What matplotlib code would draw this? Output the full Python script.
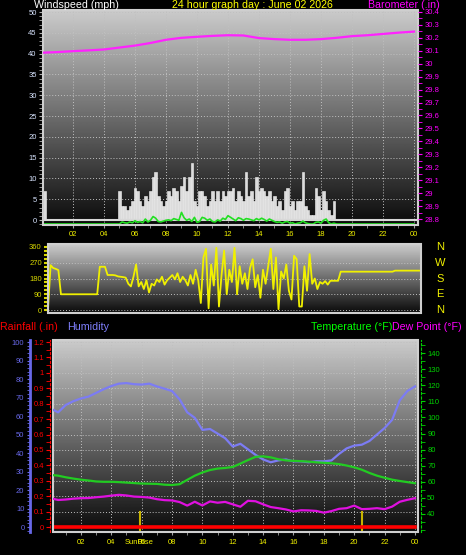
import numpy as np
import matplotlib
matplotlib.use('Agg')
import matplotlib.pyplot as plt
from matplotlib import transforms
from matplotlib.patches import Rectangle
from matplotlib.ticker import MultipleLocator, FuncFormatter

plt.rcParams['font.family'] = ['Liberation Sans', 'DejaVu Sans']

# ---- data -----------------------------------------------------------
title_text = '24 hour graph day : June 02 2026'

# wind, 10 minute samples 00:00 .. 24:00 (145 values)
wind_gust_mph = ([0.0, 6.9] + [0.0] * 28 +
                 [6.9, 3.4, 3.4, 2.3, 3.4, 4.6, 7.8,
                  6.9, 4.6, 3.4, 5.7, 4.6, 6.9,
                  10.4, 11.5, 5.7, 4.6, 3.4, 4.6,
                  6.9, 5.7, 7.8, 6.9, 4.6, 8.1,
                  10.4, 6.9, 10.4, 13.8, 4.6, 3.4,
                  6.9, 6.9, 5.7, 3.4, 4.6, 6.9,
                  4.6, 6.9, 4.6, 6.9, 5.7, 6.9,
                  6.9, 7.8, 4.6, 6.9, 5.7, 4.6,
                  11.5, 5.7, 6.9, 4.6, 10.4, 6.9,
                  7.8, 6.9, 5.7, 6.9, 4.6, 5.7,
                  3.4, 4.6, 2.3, 6.9, 7.8, 3.4,
                  4.6, 2.3, 4.6, 4.6, 11.5, 3.4,
                  2.3, 1.2, 1.2, 7.8, 5.7, 2.3,
                  6.9, 4.6, 2.3, 1.2, 4.6, 0.0] +
                 [0.0] * 30)
wind_avg_mph = ([0.0] * 30 +
                [0.0, 0.5, 0.3, 0.2, 0.5, 0.3, 0.8,
                 0.4, 0.6, 0.3, 1.2, 0.5, 0.9,
                 1.8, 1.4, 0.6, 0.5, 0.7, 0.9,
                 1.0, 0.8, 1.3, 1.1, 0.9, 2.8,
                 1.5, 0.9, 1.2, 0.6, 1.6, 0.4,
                 0.6, 1.6, 1.4, 0.9, 1.2, 0.6,
                 0.5, 1.0, 0.7, 1.4, 1.1, 2.0,
                 1.6, 1.2, 0.8, 1.5, 1.3, 0.9,
                 1.3, 1.2, 1.0, 0.8, 1.3, 1.0,
                 1.4, 1.1, 0.7, 1.2, 0.9, 0.6,
                 0.4, 0.5, 0.2, 0.5, 0.6, 0.2,
                 0.3, 0.0, 0.2, 0.3, 0.7, 0.3,
                 0.1, 0.0, 0.0, 0.4, 0.5, 0.2,
                 0.9, 1.2, 0.3, 0.0, 0.2, 0.0] +
                [0.0] * 30)
wind_dir_deg = ([8, 256, 240, 235, 228, 90] + [90] * 14 +
                [247, 247, 247, 200, 200, 200, 198, 192, 190, 188] +
                [185, 150, 135, 190, 260, 135,
                 160, 120, 170, 100, 150, 140,
                 175, 160, 190, 145, 170, 185,
                 200, 175, 210, 160, 190, 170,
                 140, 200, 150, 230, 170, 40,
                 300, 350, 10, 260, 140, 355,
                 20, 200, 340, 90, 230, 160,
                 355, 90, 250, 150, 210, 120,
                 240, 290, 130, 200, 70, 230,
                 150, 250, 350, 120, 300, 5,
                 220, 180, 260, 110, 60, 310,
                 290, 20, 20, 250, 110, 320,
                 150, 180, 120, 160, 150, 165,
                 145, 167, 167, 167, 167, 219] +
                [219] * 20 + [225] * 11)

# barometer, hourly 00 .. 24
baro_inhg = [30.085, 30.09, 30.097, 30.103, 30.11, 30.125, 30.14, 30.16,
             30.185, 30.2, 30.208, 30.215, 30.22, 30.218, 30.198, 30.19,
             30.185, 30.185, 30.19, 30.2, 30.213, 30.22, 30.23, 30.24, 30.248]

# half hourly 00:00 .. 24:00
humidity_pct = [64, 62, 66, 68, 69.5, 70.5, 72.5, 74.5, 76.2, 77.5,
                77.8, 77.2, 77, 77.5, 76, 74.8, 73.5, 69, 62, 59,
                52.5, 53, 50.5, 48, 43.5, 45, 42, 39, 36.5, 35,
                36, 36.5, 35.5, 35.5, 35, 35.5, 35.5, 36, 39.5, 42.5,
                44, 44.5, 46.5, 50, 53.5, 58, 68.5, 73.5, 76]
temp_f = [64.3, 63.8, 62.8, 62.0, 61.3, 60.8, 60.2, 60.0, 60.0, 59.8,
          59.5, 59.2, 58.9, 58.8, 58.7, 58.2, 58.0, 58.5, 61.2, 63.8,
          65.8, 67.3, 68.2, 68.6, 69.2, 71.3, 73.5, 75.5, 75.8, 75.2,
          74.0, 73.3, 73.0, 72.8, 72.5, 72.1, 71.8, 71.5, 71.0, 70.1,
          69.0, 67.5, 65.5, 63.8, 62.5, 61.3, 60.5, 59.8, 59.1]
dewpoint_f = [49.8, 48.7, 49.0, 49.5, 49.8, 49.9, 50.4, 50.8, 51.4, 51.9,
              51.5, 50.8, 50.6, 50.2, 49.2, 48.6, 48.4, 47.4, 45.2, 47.6,
              45.3, 47.8, 47.0, 47.5, 46.0, 44.5, 48.2, 47.9, 46.0, 44.3,
              43.6, 42.8, 41.6, 42.3, 42.2, 41.9, 40.8, 41.8, 43.2, 43.6,
              45.2, 43.0, 43.2, 43.6, 43.0, 44.6, 47.6, 48.8, 49.8]
rain_in = [0.0] * 25

sunrise_h = 5.9
sunset_h = 20.5
compass_labels = ['N', 'W', 'S', 'E', 'N']
compass_deg = [360, 270, 180, 90, 0]

hours10 = np.arange(len(wind_gust_mph)) / 6.0
hours60 = np.arange(len(baro_inhg))
hours30 = np.arange(len(humidity_pct)) / 2.0

# ---- layout helpers -------------------------------------------------
W, H = 466, 555
YEL = '#f0f000'
GRID = dict(color='#c0c0c0', ls=(0, (1, 2)), lw=0.7, zorder=1)
hour_fmt = FuncFormatter(lambda v, p: '%02d' % (int(round(v)) % 24))


def box(x0, y0, x1, y1):
    return [x0 / W, 1 - y1 / H, (x1 - x0) / W, (y1 - y0) / H]


def backdrop(ax, top=0.80, bottom=0.04):
    grad = np.linspace(top, bottom, 256).reshape(-1, 1)
    ax.imshow(grad, extent=[0, 1, 0, 1], transform=ax.transAxes,
              aspect='auto', cmap='gray', vmin=0, vmax=1, zorder=0)
    ax.add_patch(Rectangle((0, 0), 1, 1, transform=ax.transAxes, fill=False,
                           ec='#cfcfcf', lw=1.5, clip_on=False, zorder=6))
    for s in ax.spines.values():
        s.set_visible(False)


def hide_spines(ax, keep=None):
    for name, s in ax.spines.items():
        s.set_visible(name == keep)


fig = plt.figure(figsize=(W / 100, H / 100), dpi=100, facecolor='black')

# ---- top: windspeed + barometer -------------------------------------
ax_w = fig.add_axes(box(43, 10, 418, 225))
backdrop(ax_w)
ax_w.bar(hours10, wind_gust_mph, width=0.165, color='#dcdcdc', lw=0.4,
         edgecolor='#f4f4f4', zorder=2)
ax_w.axhline(0, color='#d8d8d8', lw=1.5, zorder=2)
green_tr = transforms.offset_copy(ax_w.transData, fig=fig, y=-4, units='dots')
ax_w.plot(hours10, wind_avg_mph, color='#22e022', lw=1.2, transform=green_tr,
          zorder=3)
ax_w.set_xlim(0.065, 24.26)
ax_w.set_ylim(-1.2, 50.5)
ax_w.set_xticks(np.arange(2, 25, 2))
ax_w.xaxis.set_major_formatter(hour_fmt)
ax_w.xaxis.set_minor_locator(MultipleLocator(1))
ax_w.set_yticks(np.arange(0, 51, 5))
ax_w.yaxis.set_minor_locator(MultipleLocator(1))
ax_w.grid(True, which='major', **GRID)
ax_w.tick_params(axis='x', which='both', colors='#a0a0a0', labelcolor=YEL,
                 labelsize=5.5, length=2, pad=2.5)
ax_w.tick_params(axis='y', which='both', colors='#b0b0b0',
                 labelcolor='#d8e4ff', labelsize=5.5, length=3, pad=1.5)

ax_b = ax_w.twinx()
hide_spines(ax_b)
ax_b.plot(hours60, baro_inhg, color='#ff22ff', lw=1.6, zorder=4)
ax_b.set_ylim(28.754, 30.415)
ax_b.set_yticks(np.arange(28.8, 30.41, 0.1))
ax_b.yaxis.set_major_formatter(FuncFormatter(lambda v, p: '%g' % round(v, 1)))
ax_b.yaxis.set_minor_locator(MultipleLocator(0.05))
ax_b.tick_params(axis='y', which='both', colors='#ff00ff', labelsize=5.5,
                 length=3, pad=1.5)

fig.text(34 / W, 1 - 5.5 / H, 'Windspeed (mph)', color='white', fontsize=7.7,
         ha='left', va='center')
fig.text(252 / W, 1 - 5.5 / H, title_text, color='#ffff00', fontsize=7.7,
         ha='center', va='center')
fig.text(440 / W, 1 - 5.5 / H, 'Barometer (.in)', color='#ff00ff',
         fontsize=7.7, ha='right', va='center')

# ---- middle: wind direction -----------------------------------------
ax_d = fig.add_axes(box(48, 244, 421, 313))
backdrop(ax_d)
ax_d.plot(hours10, wind_dir_deg, color=YEL, lw=1.3, zorder=3)
ax_d.set_xlim(0, 24)
ax_d.set_ylim(-17, 377)
ax_d.set_xticks(np.arange(2, 24, 2))
ax_d.set_yticks([0, 90, 180, 270, 360])
ax_d.yaxis.set_minor_locator(MultipleLocator(22.5))
ax_d.grid(True, which='major', axis='y', **GRID)
ax_d.tick_params(axis='x', which='both', length=0, labelbottom=False)
ax_d.tick_params(axis='y', which='both', colors='#d8d800', labelsize=5.5,
                 length=3, width=1.5, pad=1.5)
side = transforms.blended_transform_factory(ax_d.transAxes, ax_d.transData)
for lab, deg in zip(compass_labels, compass_deg):
    ax_d.text(1.051, deg, lab, transform=side, color=YEL, fontsize=8,
              ha='center', va='center')

# ---- bottom: rain, humidity, temperature, dew point -----------------
ax_r = fig.add_axes(box(53, 340, 418, 532))
backdrop(ax_r)
ax_r.spines['left'].set_visible(True)
ax_r.spines['left'].set_position(('outward', 2))
ax_r.spines['left'].set_color('#ff0000')
ax_r.spines['left'].set_linestyle((0, (2, 2)))
ax_r.plot(hours60, rain_in, color='#ff0000', lw=2.6, zorder=5)
for h in (sunrise_h, sunset_h):
    ax_r.axvline(h, ymin=0, ymax=0.104, color='#c8b400', lw=1.5, zorder=4)
ax_r.set_xlim(0.16, 24.2)
ax_r.set_ylim(-0.032, 1.213)
ax_r.set_xticks(np.arange(2, 25, 2))
ax_r.xaxis.set_major_formatter(hour_fmt)
ax_r.xaxis.set_minor_locator(MultipleLocator(1))
ax_r.set_yticks(np.arange(0, 1.21, 0.1))
ax_r.yaxis.set_major_formatter(FuncFormatter(lambda v, p: '%g' % round(v, 1)))
ax_r.yaxis.set_minor_locator(MultipleLocator(0.05))
ax_r.grid(True, which='major', **GRID)
ax_r.tick_params(axis='x', which='both', colors='#a0a0a0', labelcolor=YEL,
                 labelsize=5.5, length=2, pad=3)
ax_r.tick_params(axis='y', which='both', colors='#ff0000', labelsize=5.5,
                 length=3, pad=1.5)
ax_r.text(sunrise_h - 0.1, -0.055, 'SunRise',
          transform=transforms.blended_transform_factory(ax_r.transData,
                                                         ax_r.transAxes),
          color=YEL, fontsize=5.5, ha='center', va='center', zorder=7)

ax_h = ax_r.twinx()
hide_spines(ax_h, 'left')
ax_h.spines['left'].set_position(('axes', -0.063))
ax_h.spines['left'].set_color('#6868e8')
ax_h.spines['left'].set_linewidth(2)
ax_h.yaxis.set_ticks_position('left')
ax_h.plot(hours30, humidity_pct, color='#7c7cf4', lw=1.6, zorder=3)
ax_h.set_ylim(-2.7, 101.1)
ax_h.set_yticks(np.arange(0, 101, 10))
ax_h.yaxis.set_minor_locator(MultipleLocator(2))
ax_h.tick_params(axis='y', which='both', colors='#6868e8', labelsize=5.5,
                 length=2.5, pad=1.5)

ax_t = ax_r.twinx()
hide_spines(ax_t, 'right')
ax_t.spines['right'].set_position(('axes', 1.008))
ax_t.spines['right'].set_color('#00d000')
ax_t.spines['right'].set_linestyle((0, (2, 2)))
ax_t.plot(hours30, temp_f, color='#22cc22', lw=1.6, zorder=3)
ax_t.plot(hours30, dewpoint_f, color='#e010e0', lw=1.6, zorder=3)
ax_t.set_ylim(28.8, 148.1)
ax_t.set_yticks(np.arange(40, 141, 10))
ax_t.yaxis.set_minor_locator(MultipleLocator(5))
ax_t.tick_params(axis='y', which='both', colors='#00d000', labelsize=5.5,
                 length=3, pad=1.5)

fig.text(0 / W, 1 - 327 / H, 'Rainfall (.in)', color='#ff0000', fontsize=7.7,
         ha='left', va='center')
fig.text(67 / W, 1 - 327 / H, 'Humidity', color='#8080ff', fontsize=7.7,
         ha='left', va='center')
fig.text(392 / W, 1 - 327 / H, 'Temperature (\u00b0F)', color='#00ff00',
         fontsize=7.7, ha='right', va='center')
fig.text(462 / W, 1 - 327 / H, 'Dew Point (\u00b0F)', color='#ff00ff',
         fontsize=7.7, ha='right', va='center')

fig.savefig('out.png', dpi=100, facecolor='black')
